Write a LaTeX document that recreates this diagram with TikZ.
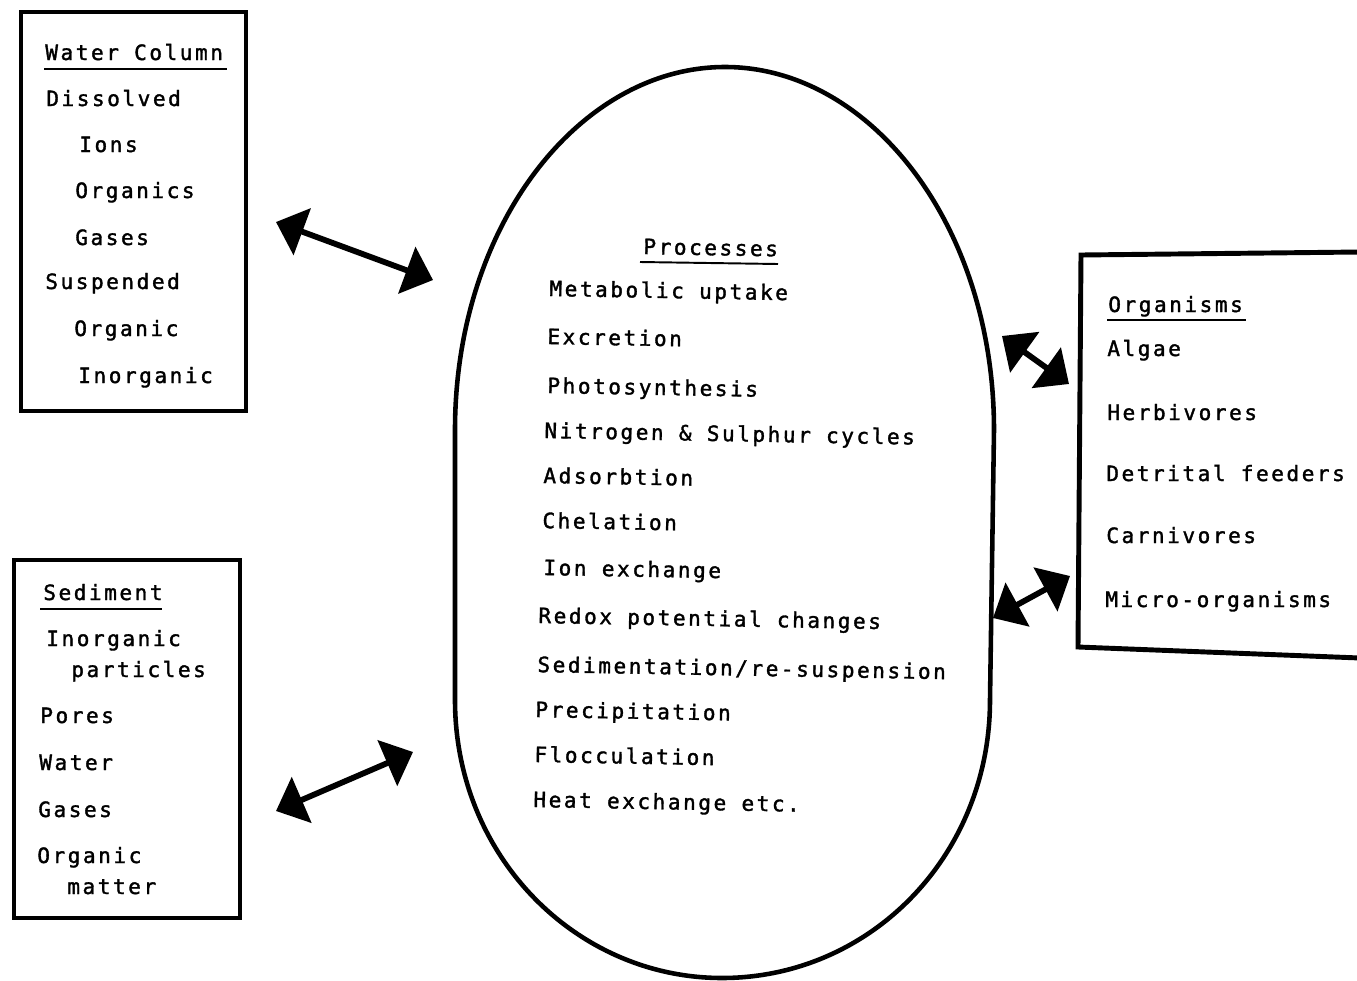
\documentclass[tikz,border=0pt]{standalone}
\usepackage{fontspec}
\newfontfamily\typer{DejaVu Sans Mono}[LetterSpace=12,FakeBold=1.6]
\usetikzlibrary{arrows.meta}

\begin{document}
\begin{tikzpicture}[x=0.02cm,y=-0.02cm,
    box/.style={line width=2.8pt},
    txt/.style={anchor=base west,inner sep=0pt,font=\typer\fontsize{12pt}{14pt}\selectfont},
    ptxt/.style={txt,rotate=-1},
    uline/.style={line width=1.1pt},
    dbl/.style={line width=3.3pt,{Triangle[length=0.56cm,width=0.98cm]}-{Triangle[length=0.56cm,width=0.98cm]}}]
    \useasboundingbox (0,0) rectangle (1357,981);

    % water column
    \draw[box] (21,12) rectangle (246,411);
    \node[txt] (wchead) at (45,60) {Water Column};
    \draw[uline] (44,69) -- (227,69);
    \node[txt] (dissolved) at (46,106) {Dissolved};
    \node[txt] (ions) at (79,152) {Ions};
    \node[txt] (organics) at (75,198) {Organics};
    \node[txt] (wcgases) at (75,245) {Gases};
    \node[txt] (suspended) at (45,289) {Suspended};
    \node[txt] (organic) at (74,336) {Organic};
    \node[txt] (inorganic) at (78,383) {Inorganic};

    % sediment
    \draw[box] (14,560) rectangle (240,918);
    \node[txt] (sdhead) at (43,600) {Sediment};
    \draw[uline] (40,609) -- (162,609);
    \node[txt] (particles1) at (46,646) {Inorganic};
    \node[txt] (particles2) at (71,677) {particles};
    \node[txt] (pores) at (40,723) {Pores};
    \node[txt] (water) at (39,770) {Water};
    \node[txt] (sdgases) at (38,817) {Gases};
    \node[txt] (matter1) at (37,863) {Organic};
    \node[txt] (matter2) at (67,894) {matter};

    % organisms, open to the right
    \draw[box] (1360,252) -- (1081,255) -- (1078,647) -- (1360,658);
    \node[txt] (orhead) at (1108,312) {Organisms};
    \draw[uline] (1107,320) -- (1246,320);
    \node[txt] (algae) at (1107,356) {Algae};
    \node[txt] (herbivores) at (1107,420) {Herbivores};
    \node[txt] (detrital) at (1106,481) {Detrital feeders};
    \node[txt] (carnivores) at (1106,543) {Carnivores};
    \node[txt] (micro) at (1105,607) {Micro-organisms};

    % processes
    \draw[line width=2.6pt] (455,700) -- (455,430) .. controls (455,225) and (580,67) .. (725,67)
        .. controls (870,67) and (994,225) .. (994,430) -- (990,700)
        .. controls (990,856) and (870,978) .. (722,978)
        .. controls (576,978) and (455,856) .. (455,700) -- cycle;
    \node[ptxt] (prhead) at (643,254) {Processes};
    \draw[uline] (640,262) -- (778,264);
    \node[ptxt] (metabolic) at (549,296) {Metabolic uptake};
    \node[ptxt] (excretion) at (547,344) {Excretion};
    \node[ptxt] (photo) at (547,393) {Photosynthesis};
    \node[ptxt] (cycles) at (544,438) {Nitrogen \& Sulphur cycles};
    \node[ptxt] (adsorb) at (543,483) {Adsorbtion};
    \node[ptxt] (chelation) at (542,528) {Chelation};
    \node[ptxt] (ionex) at (543,575) {Ion exchange};
    \node[ptxt] (redox) at (538,623) {Redox potential changes};
    \node[ptxt] (sedim) at (537,672) {Sedimentation/re-suspension};
    \node[ptxt] (precip) at (535,717) {Precipitation};
    \node[ptxt] (floc) at (534,762) {Flocculation};
    \node[ptxt] (heat) at (533,807) {Heat exchange etc.};

    % exchanges
    \coordinate (wcA) at (276,222);
    \coordinate (wcB) at (433,280);
    \coordinate (sdA) at (276,811);
    \coordinate (sdB) at (413,752);
    \coordinate (orA) at (1002,336);
    \coordinate (orB) at (1069,384);
    \coordinate (orC) at (993,618);
    \coordinate (orD) at (1070,576);
    \draw[dbl] (wcA) -- (wcB);
    \draw[dbl] (sdA) -- (sdB);
    \draw[dbl] (orA) -- (orB);
    \draw[dbl] (orC) -- (orD);
\end{tikzpicture}
\end{document}
